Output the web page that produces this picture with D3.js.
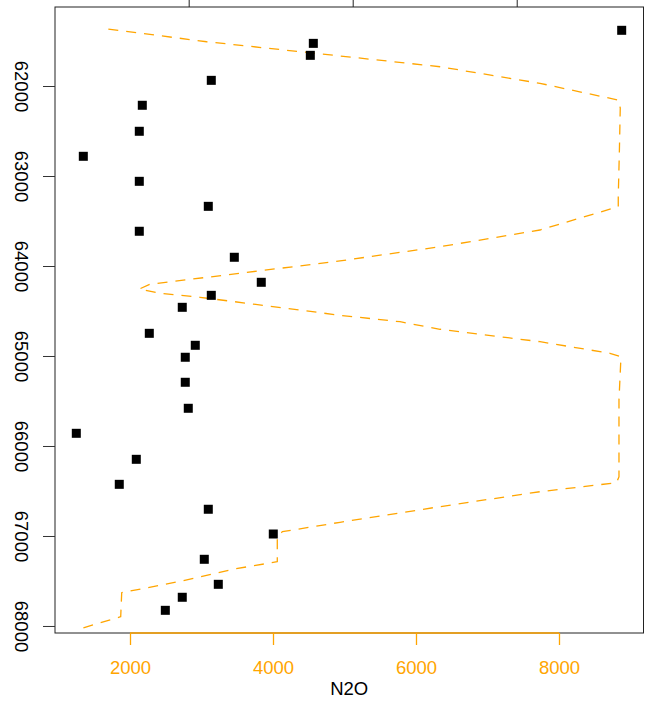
<!DOCTYPE html>
<html>
<head>
<meta charset="utf-8">
<script src="https://cdn.jsdelivr.net/npm/d3@7"></script>
<style>
  body { margin: 0; background: #fff; }
  svg { display: block; font-family: "Liberation Sans", Arial, sans-serif; }
</style>
</head>
<body>
<script>
// tick values
var depthTicks = [62000, 63000, 64000, 65000, 66000, 67000, 68000];
var n2oTicks = [2000, 4000, 6000, 8000];
var topTicks = [1, 2, 3];

// measured samples (squares)
var sampleDepth = [61381, 61526, 61659, 61937, 62214, 62503, 62781, 63059, 63337, 63614,
                   63903, 64181, 64326, 64459, 64748, 64881, 65014, 65292, 65581, 65859,
                   66148, 66426, 66703, 66978, 67259, 67537, 67681, 67826];
var sampleN2O = [8877, 4564, 4522, 3137, 2172, 2130, 1347, 2130, 3095, 2130,
                 3459, 3836, 3137, 2731, 2270, 2913, 2773, 2773, 2815, 1249,
                 2088, 1850, 3095, 4004, 3039, 3235, 2731, 2494];

// model curve (dashed)
var curveDepth = [61367, 61508, 61626, 61786, 61970, 62156, 62244, 62711, 63230, 63341,
                  63600, 63786, 63848, 63944, 64203, 64256, 64303, 64348, 64489, 64548,
                  64619, 64703, 64841, 64970, 65008, 65489, 66341, 66408, 66508, 66674,
                  66848, 66952, 67019, 67286, 67370, 67497, 67630, 67897, 68037];
var curveN2O = [1697, 3073, 4471, 6336, 7734, 8829, 8857, 8845, 8829, 8829,
                7734, 6336, 5776, 4937, 2280, 2130, 2420, 2979, 4378, 4937,
                5776, 6336, 7734, 8713, 8867, 8839, 8839, 8806, 7734, 6336,
                4937, 4130, 4060, 4060, 3436, 2745, 1884, 1870, 1277];

var W = 645, H = 703;
var plotLeft = 55, plotRight = 643.5, plotTop = 7, plotBottom = 633;
var orange = "#FFA500";

var x = d3.scaleLinear().domain([951, 9182]).range([plotLeft, plotRight]);
var y = d3.scaleLinear().domain([61122, 68078]).range([plotTop, plotBottom]);
var xTop = d3.scaleLinear().domain([0.185, 3.773]).range([plotLeft, plotRight]);

var svg = d3.select("body").append("svg")
    .attr("width", W)
    .attr("height", H);

svg.append("rect").attr("width", W).attr("height", H).attr("fill", "#fff");

// dashed curve
var line = d3.line()
    .x(function (d) { return x(d[1]); })
    .y(function (d) { return y(d[0]); });

svg.append("path")
    .datum(d3.zip(curveDepth, curveN2O))
    .attr("d", line)
    .attr("fill", "none")
    .attr("stroke", orange)
    .attr("stroke-width", 1.3)
    .attr("stroke-linejoin", "round")
    .attr("stroke-dasharray", "10,8");

// squares
svg.append("g").selectAll("rect")
    .data(d3.zip(sampleDepth, sampleN2O))
    .enter().append("rect")
    .attr("x", function (d) { return x(d[1]) - 4.5; })
    .attr("y", function (d) { return y(d[0]) - 4.5; })
    .attr("width", 9)
    .attr("height", 9)
    .attr("fill", "#000");

// frame
svg.append("rect")
    .attr("x", plotLeft)
    .attr("y", plotTop)
    .attr("width", plotRight - plotLeft)
    .attr("height", plotBottom - plotTop)
    .attr("fill", "none")
    .attr("stroke", "#222")
    .attr("stroke-width", 1);

// left axis
var gy = svg.append("g")
    .attr("transform", "translate(" + plotLeft + ",0)")
    .call(d3.axisLeft(y).tickValues(depthTicks).tickSize(12).tickFormat(d3.format("d")));
gy.select(".domain").remove();
gy.selectAll(".tick line").attr("stroke", "#333");
gy.selectAll(".tick text")
    .attr("x", null)
    .attr("dy", null)
    .attr("transform", "translate(-40,0) rotate(90)")
    .attr("text-anchor", "middle")
    .attr("fill", "#000")
    .style("font-size", "18.5px")
    .style("font-family", "Liberation Sans, Arial, sans-serif");

// bottom axis
var gx = svg.append("g")
    .attr("transform", "translate(0," + plotBottom + ")")
    .call(d3.axisBottom(x).tickValues(n2oTicks).tickSize(12).tickFormat(d3.format("d")));
gx.select(".domain").remove();
gx.append("line")
    .attr("x1", x(n2oTicks[0]))
    .attr("x2", x(n2oTicks[n2oTicks.length - 1]))
    .attr("stroke", orange)
    .attr("stroke-width", 1.3);
gx.selectAll(".tick line").attr("stroke", orange).attr("stroke-width", 1.3);
gx.selectAll(".tick text")
    .attr("y", 41)
    .attr("dy", null)
    .attr("fill", orange)
    .style("font-size", "18.5px")
    .style("font-family", "Liberation Sans, Arial, sans-serif");

// top axis (labels fall outside the picture)
var gt = svg.append("g")
    .attr("transform", "translate(0," + plotTop + ")")
    .call(d3.axisTop(xTop).tickValues(topTicks).tickSize(12).tickFormat(""));
gt.select(".domain").remove();
gt.selectAll(".tick line").attr("stroke", "#222");

// x title
svg.append("text")
    .attr("x", (plotLeft + plotRight) / 2)
    .attr("y", 695)
    .attr("text-anchor", "middle")
    .style("font-size", "18.5px")
    .text("N2O");
</script>
</body>
</html>
